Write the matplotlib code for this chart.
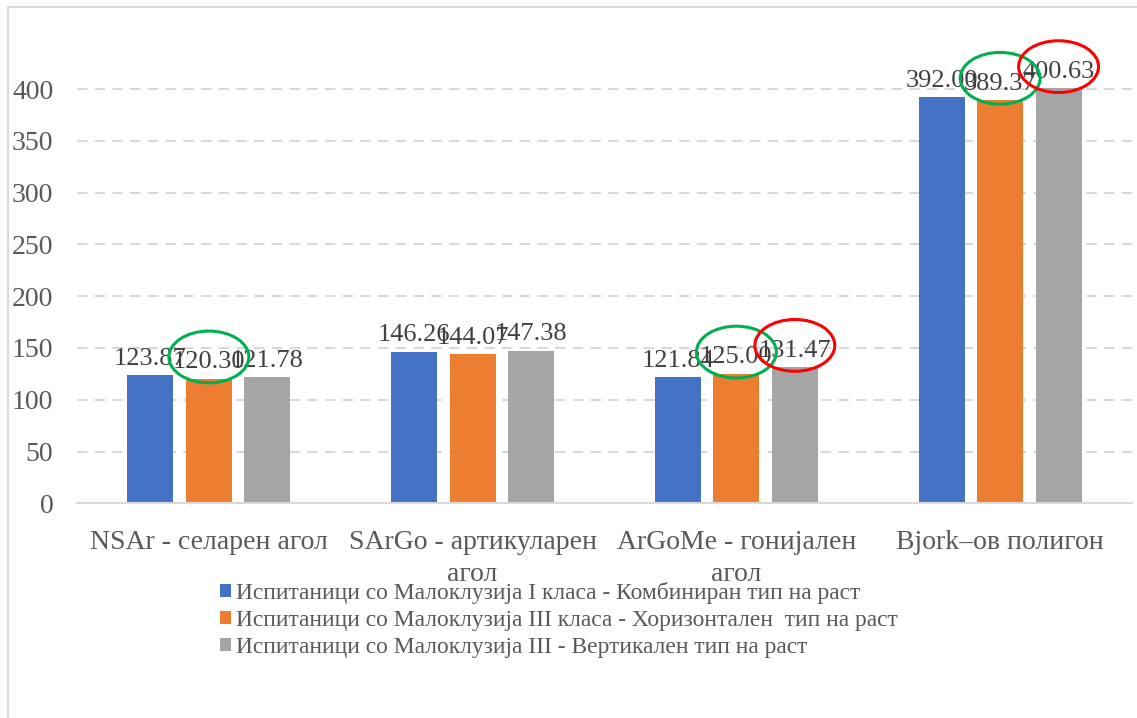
import matplotlib
matplotlib.use("Agg")
import matplotlib.pyplot as plt
from matplotlib.patches import Ellipse, Rectangle, Patch
import numpy as np

categories = ["NSAr - селарен агол", "SArGo - артикуларен\nагол",
              "ArGoMe - гонијален\nагол", "Bjork–ов полигон"]
series_names = [
    "Испитаници со Малоклузија I класа - Комбиниран тип на раст",
    "Испитаници со Малоклузија III класа - Хоризонтален  тип на раст",
    "Испитаници со Малоклузија III - Вертикален тип на раст",
]
series_1 = [123.87, 146.26, 121.84, 392.00]
series_2 = [120.30, 144.07, 125.00, 389.37]
series_3 = [121.78, 147.38, 131.47, 400.63]
yticks = [0, 50, 100, 150, 200, 250, 300, 350, 400]
# highlighted labels: (series index, category index, colour)
highlights = [(1, 0, "#00B050"), (1, 2, "#00B050"), (2, 2, "#FF0000"),
              (1, 3, "#00B050"), (2, 3, "#FF0000")]

colors = ["#4472C4", "#ED7D31", "#A5A5A5"]
W, H = 1137, 718
plt.rcParams["font.family"] = ["Liberation Serif", "DejaVu Serif"]

fig = plt.figure(figsize=(W / 100, H / 100), dpi=100)
fig.patches.append(Rectangle((7.5 / W, -0.1), 1.2, 1 - 7.5 / H + 0.1,
                             transform=fig.transFigure, fill=False,
                             edgecolor="#D9D9D9", linewidth=1.5))

ax = fig.add_axes([77 / W, 1 - 503.3 / H, (1132 - 77) / W, (503.3 - 30) / H])
x = np.arange(len(categories))
pitch = 0.2216
bw = 0.174
all_series = [series_1, series_2, series_3]
for i, vals in enumerate(all_series):
    pos = x + (i - 1) * pitch
    ax.bar(pos, vals, width=bw, color=colors[i], zorder=3,
           label=series_names[i])
    for px_, v in zip(pos, vals):
        ax.annotate(f"{v:.2f}", (px_, v), xytext=(0, 7.5),
                    textcoords="offset points", ha="center", va="baseline",
                    fontsize=19, color="#404040", zorder=5)

for si, ci, col in highlights:
    cx = x[ci] + (si - 1) * pitch
    cy = all_series[si][ci] + 21
    ax.add_patch(Ellipse((cx, cy), 0.303, 50, fill=False, edgecolor=col,
                         linewidth=2.2, zorder=6, clip_on=False))

ax.set_xlim(-0.5, 3.5)
ax.set_ylim(0, 457)
ax.set_yticks(yticks)
ax.set_xticks(x)
ax.set_xticklabels(categories, fontsize=20, color="#595959", linespacing=1.38)
ax.tick_params(axis="y", length=0, pad=17, labelsize=20, labelcolor="#595959")
ax.tick_params(axis="x", length=0, pad=19)
ax.yaxis.grid(True, color="#D9D9D9", linestyle=(0, (5, 3.5)), linewidth=1.5,
              zorder=0)
ax.set_axisbelow(True)
for s in ["top", "right", "left"]:
    ax.spines[s].set_visible(False)
ax.spines["bottom"].set_color("#D9D9D9")
ax.spines["bottom"].set_linewidth(1.5)
ax.spines["bottom"].set_zorder(4)

handles = [Patch(facecolor=c) for c in colors]
fig.legend(handles, series_names, loc="upper left",
           bbox_to_anchor=(220 / W, 1 - 582 / H), frameon=False,
           fontsize=16.9, labelcolor="#595959", handlelength=0.47,
           handleheight=0.47, handletextpad=0.21, labelspacing=0.26,
           borderaxespad=0, borderpad=0)

fig.savefig("out.png", dpi=100)
